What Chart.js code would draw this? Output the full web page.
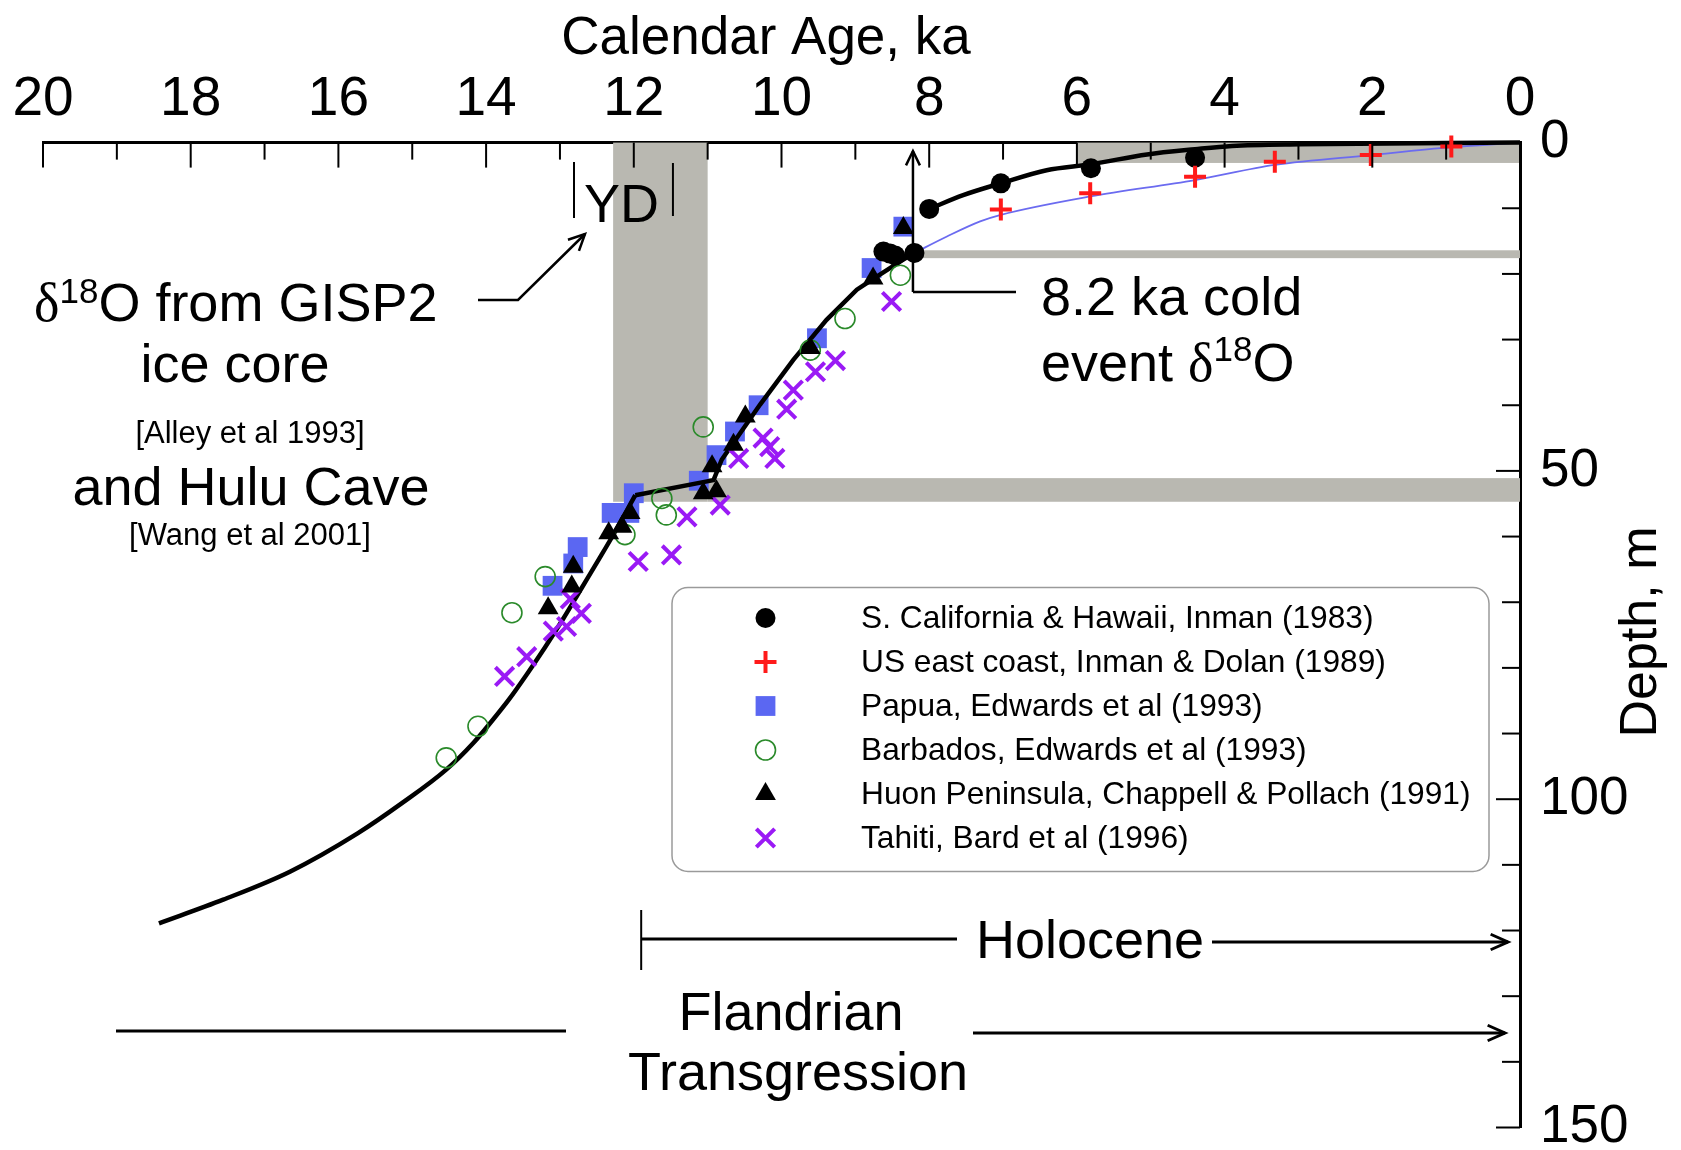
<!DOCTYPE html>
<html>
<head>
<meta charset="utf-8">
<script src="https://cdn.jsdelivr.net/npm/chart.js@4/dist/chart.umd.min.js"></script>
<style>
html,body{margin:0;padding:0;background:#fff;}
#wrap{width:1681px;height:1150px;position:relative;background:#fff;}
canvas{display:block;}
</style>
</head>
<body>
<div id="wrap"><canvas id="c" width="1681" height="1150"></canvas></div>
<script>
// ---------- tick labels ----------
const ageTickLabels = [20, 18, 16, 14, 12, 10, 8, 6, 4, 2, 0];
const depthTickLabels = [0, 50, 100, 150];
const ageMinorTicks = [0,1,2,3,4,5,6,7,8,9,10,11,12,13,14,15,16,17,18,19,20];
const depthMinorTicks = [10,20,30,40,50,60,70,80,90,100,110,120,130,140,150];

// ---------- series: Calendar age (ka) / depth (m) ----------
const seriesNames = [
  'S. California & Hawaii, Inman (1983)',
  'US east coast, Inman & Dolan (1989)',
  'Papua, Edwards et al (1993)',
  'Barbados, Edwards et al (1993)',
  'Huon Peninsula, Chappell & Pollach (1991)',
  'Tahiti, Bard et al (1996)'
];

const califAge   = [8.00, 7.03, 5.81, 4.40, 8.62, 8.53, 8.46, 8.20];
const califDepth = [10.1, 6.2, 3.9, 2.3, 16.6, 16.9, 17.2, 16.8];

const eastAge   = [7.03, 5.82, 4.40, 3.32, 2.02, 0.93];
const eastDepth = [10.2, 7.7, 5.2, 2.9, 1.9, 0.6];

const papuaAge   = [8.35, 8.78, 9.52, 10.31, 10.63, 10.88, 11.12, 12.00, 12.06, 12.30, 12.76, 12.82, 13.10];
const papuaDepth = [12.8, 19.1, 29.8, 40.0, 44.0, 47.6, 51.5, 53.4, 56.4, 56.4, 61.6, 64.1, 67.5];

const barbadosAge   = [8.39, 9.14, 9.61, 11.06, 11.62, 11.56, 12.12, 13.20, 13.65, 14.11, 14.54];
const barbadosDepth = [20.2, 26.8, 31.6, 43.3, 54.2, 56.7, 59.7, 66.1, 71.6, 88.9, 93.7];

const huonAge   = [8.35, 8.76, 9.61, 10.49, 10.65, 10.94, 10.88, 11.06, 12.05, 12.16, 12.34, 12.82, 12.84, 13.16];
const huonDepth = [13.0, 20.7, 31.3, 41.7, 46.0, 49.3, 53.1, 53.4, 56.4, 58.5, 59.5, 64.6, 67.6, 70.9];

const tahitiAge   = [8.51, 9.27, 9.54, 9.84, 9.93, 10.25, 10.16, 10.09, 10.58, 10.83, 11.28, 11.49, 11.94, 12.86, 12.71, 12.91, 13.09, 13.45, 13.75];
const tahitiDepth = [24.2, 33.2, 34.9, 37.7, 40.6, 45.0, 46.3, 48.1, 48.1, 55.2, 57.0, 62.8, 63.8, 69.5, 71.7, 73.7, 74.4, 78.3, 81.3];

// GISP2 / Hulu Cave sea-level curve, in three pieces
const curveLowAge    = [18.43,17.56,16.65,15.74,15.14,14.54,14.17,13.93,13.69,13.45,13.21,12.96,12.72,12.48,12.24,11.98];
const curveLowDepth  = [118.9,115.3,111.0,105.2,100.6,95.5,91.4,88.2,84.8,81.0,77.0,72.6,68.1,63.6,59.0,53.7];
const curveMidAge    = [11.98,10.92,10.81,10.29,9.84,9.39,8.98,8.71,8.39,8.20];
const curveMidDepth  = [53.7,51.4,48.3,39.9,33.1,27.0,22.4,20.4,18.1,16.8];
const curveHighAge   = [8.00,7.54,7.03,6.41,5.81,5.05,4.40,3.90,2.98,0.00];
const curveHighDepth = [10.1,8.0,6.2,4.2,3.3,1.8,1.0,0.5,0.25,0.0];

// thin blue curve through the US east coast data
const eastCurveAge   = [8.20, 7.76, 7.31, 7.03, 5.82, 4.40, 3.32, 2.02, 0.93, 0.00];
const eastCurveDepth = [16.8, 14.3, 12.0, 11.0, 8.2, 5.7, 3.4, 1.9, 0.7, 0.0];

// grey bands (age from/to, depth from/to)
const bandAgeFrom   = [12.28, 11.00, 8.20, 6.00];
const bandAgeTo     = [11.00, 0.00, 0.00, 0.00];
const bandDepthFrom = [0.0, 51.1, 16.4, 0.0];
const bandDepthTo   = [54.7, 54.7, 17.6, 3.1];

// YD bounds (ka)
const ydBounds = [12.81, 11.47];
const event82Age = 8.22;
const holoceneStartAge = 11.9;

// ---------- helpers ----------
const FONT = "'Liberation Sans', Arial, Helvetica, sans-serif";
const SERIF = "'Liberation Serif', 'Times New Roman', serif";
const pts = (a, d) => a.map((v, i) => ({x: v, y: d[i]}));

function runs(ctx, list, x, y, align) {
  let total = 0;
  list.forEach(r => { ctx.font = r.f; r.w = ctx.measureText(r.t).width; total += r.w; });
  let cx = align === 'center' ? x - total / 2 : x;
  ctx.textAlign = 'left';
  ctx.textBaseline = 'alphabetic';
  list.forEach(r => { ctx.font = r.f; ctx.fillText(r.t, cx, y + (r.dy || 0)); cx += r.w; });
}
function line(ctx, x1, y1, x2, y2) { ctx.beginPath(); ctx.moveTo(x1, y1); ctx.lineTo(x2, y2); ctx.stroke(); }
function chevron(ctx, x, y, ang, len, spread) {
  ctx.beginPath();
  ctx.moveTo(x - len * Math.cos(ang - spread), y - len * Math.sin(ang - spread));
  ctx.lineTo(x, y);
  ctx.lineTo(x - len * Math.cos(ang + spread), y - len * Math.sin(ang + spread));
  ctx.stroke();
}

const bandsPlugin = {
  id: 'bands',
  beforeDatasetsDraw(chart) {
    const {ctx, scales: {x, y}} = chart;
    ctx.save();
    ctx.fillStyle = '#b9b8b1';
    for (let i = 0; i < bandAgeFrom.length; i++) {
      const x0 = x.getPixelForValue(bandAgeFrom[i]), x1 = x.getPixelForValue(bandAgeTo[i]);
      const y0 = y.getPixelForValue(bandDepthFrom[i]), y1 = y.getPixelForValue(bandDepthTo[i]);
      ctx.fillRect(Math.min(x0, x1), Math.min(y0, y1), Math.abs(x1 - x0), Math.abs(y1 - y0));
    }
    ctx.restore();
  }
};

const overlayPlugin = {
  id: 'overlay',
  afterDraw(chart) {
    const {ctx, chartArea: ca, scales: {x, y}} = chart;
    ctx.save();
    ctx.strokeStyle = '#000';
    ctx.fillStyle = '#000';
    // inward tick marks
    ctx.lineWidth = 2;
    ageMinorTicks.forEach(v => {
      const px = x.getPixelForValue(v);
      line(ctx, px, ca.top, px, ca.top + (v % 2 === 0 ? 25 : 17));
    });
    depthMinorTicks.forEach(v => {
      const py = y.getPixelForValue(v);
      line(ctx, ca.right - (v % 50 === 0 ? 24 : 18), py, ca.right, py);
    });

    // axis titles
    ctx.textAlign = 'center';
    ctx.textBaseline = 'alphabetic';
    ctx.font = '53px ' + FONT;
    ctx.fillText('Calendar Age, ka', 766, 54);
    ctx.save();
    ctx.translate(1656, 632);
    ctx.rotate(-Math.PI / 2);
    ctx.font = '52px ' + FONT;
    ctx.fillText('Depth, m', 0, 0);
    ctx.restore();

    // YD marker
    ctx.lineWidth = 2;
    const yd0 = x.getPixelForValue(ydBounds[0]), yd1 = x.getPixelForValue(ydBounds[1]);
    line(ctx, yd0, 162, yd0, 218);
    line(ctx, yd1, 163, yd1, 216);
    ctx.font = '54px ' + FONT;
    ctx.textAlign = 'left';
    ctx.fillText('YD', 584, 222);

    // left annotation block
    const big = '54px ' + FONT, sup = '35px ' + FONT, dl = '54px ' + SERIF, small = '31px ' + FONT;
    runs(ctx, [{t: 'δ', f: dl}, {t: '18', f: sup, dy: -18}, {t: 'O from GISP2', f: big}], 34, 321, 'left');
    runs(ctx, [{t: 'ice core', f: big}], 235, 382, 'center');
    runs(ctx, [{t: '[Alley et al 1993]', f: small}], 250, 443, 'center');
    runs(ctx, [{t: 'and Hulu Cave', f: big}], 251, 505, 'center');
    runs(ctx, [{t: '[Wang et al 2001]', f: small}], 250, 545, 'center');

    // arrow to YD
    ctx.lineWidth = 2.5;
    ctx.beginPath(); ctx.moveTo(478, 300); ctx.lineTo(518, 300); ctx.lineTo(585, 234); ctx.stroke();
    chevron(ctx, 585, 234, Math.atan2(234 - 300, 585 - 518), 18, 0.45);

    // 8.2 ka event arrow
    const ex = x.getPixelForValue(event82Age);
    line(ctx, ex, 292, ex, 151);
    chevron(ctx, ex, 151, -Math.PI / 2, 16, 0.45);
    line(ctx, ex, 292, 1016, 292);
    runs(ctx, [{t: '8.2 ka cold', f: big}], 1041, 315, 'left');
    runs(ctx, [{t: 'event ', f: big}, {t: 'δ', f: dl}, {t: '18', f: sup, dy: -20}, {t: 'O', f: big}], 1041, 381, 'left');

    // Holocene
    const hx = x.getPixelForValue(holoceneStartAge);
    ctx.lineWidth = 2;
    line(ctx, hx, 910, hx, 970);
    ctx.lineWidth = 3;
    line(ctx, hx, 939, 957, 939);
    runs(ctx, [{t: 'Holocene', f: big}], 976, 958, 'left');
    line(ctx, 1212, 942, 1508, 942);
    chevron(ctx, 1508, 942, 0, 19, 0.42);

    // Flandrian Transgression
    line(ctx, 116, 1031, 566, 1031);
    runs(ctx, [{t: 'Flandrian', f: big}], 791, 1030, 'center');
    runs(ctx, [{t: 'Transgression', f: big}], 798, 1090, 'center');
    line(ctx, 973, 1033, 1505, 1033);
    chevron(ctx, 1505, 1033, 0, 19, 0.42);

    // legend
    ctx.lineWidth = 1.5;
    ctx.strokeStyle = '#9a9a9a';
    ctx.beginPath();
    ctx.roundRect(672, 587.5, 817, 284, 16);
    ctx.stroke();
    const legendSets = chart.data.datasets.filter(d => d.inLegend);
    legendSets.sort((a, b) => a.legendIndex - b.legendIndex);
    legendSets.forEach((ds, i) => {
      const cy = 618 + i * 44;
      ctx.fillStyle = ds.backgroundColor;
      ctx.strokeStyle = ds.borderColor;
      ctx.lineWidth = ds.borderWidth;
      Chart.helpers.drawPoint(ctx, {pointStyle: ds.pointStyle, radius: ds.pointRadius, rotation: 0, borderWidth: ds.borderWidth}, 765.5, cy);
      ctx.fillStyle = '#000';
      ctx.font = '31.7px ' + FONT;
      ctx.textAlign = 'left';
      ctx.textBaseline = 'middle';
      ctx.fillText(seriesNames[ds.legendIndex], 861, cy + 1);
    });
    ctx.restore();
  }
};

const common = {clip: false, showLine: false, pointHoverRadius: 0};
const curveStyle = {inLegend: false, order: 5, clip: false, showLine: true, pointRadius: 0, pointHoverRadius: 0,
  borderColor: '#000000', borderWidth: 4.5, fill: false};

const chart = new Chart(document.getElementById('c'), {
  type: 'scatter',
  data: {
    datasets: [
      Object.assign({}, common, {label: seriesNames[1], inLegend: true, legendIndex: 1, order: 0,
        data: pts(eastAge, eastDepth), pointStyle: 'cross', pointRadius: 11,
        backgroundColor: '#ff1a1a', borderColor: '#ff1a1a', borderWidth: 4}),
      Object.assign({}, common, {label: seriesNames[0], inLegend: true, legendIndex: 0, order: 1,
        data: pts(califAge, califDepth), pointStyle: 'circle', pointRadius: 10,
        backgroundColor: '#000000', borderColor: '#000000', borderWidth: 0}),
      Object.assign({}, common, {label: seriesNames[4], inLegend: true, legendIndex: 4, order: 2,
        data: pts(huonAge, huonDepth), pointStyle: 'triangle', pointRadius: 12,
        backgroundColor: '#000000', borderColor: '#000000', borderWidth: 0}),
      Object.assign({}, common, {label: seriesNames[5], inLegend: true, legendIndex: 5, order: 3,
        data: pts(tahitiAge, tahitiDepth), pointStyle: 'crossRot', pointRadius: 13,
        backgroundColor: '#9a1af5', borderColor: '#9a1af5', borderWidth: 4}),
      Object.assign({}, common, {label: seriesNames[3], inLegend: true, legendIndex: 3, order: 4,
        data: pts(barbadosAge, barbadosDepth), pointStyle: 'circle', pointRadius: 10,
        backgroundColor: 'rgba(0,0,0,0)', borderColor: '#2a8a2a', borderWidth: 1.6}),
      Object.assign({}, curveStyle, {label: 'GISP2 / Hulu Cave curve (early)',
        data: pts(curveLowAge, curveLowDepth), cubicInterpolationMode: 'monotone'}),
      Object.assign({}, curveStyle, {label: 'GISP2 / Hulu Cave curve (YD to 8.2 ka)',
        data: pts(curveMidAge, curveMidDepth), tension: 0}),
      Object.assign({}, curveStyle, {label: 'GISP2 / Hulu Cave curve (late)',
        data: pts(curveHighAge, curveHighDepth), cubicInterpolationMode: 'monotone'}),
      Object.assign({}, common, {label: seriesNames[2], inLegend: true, legendIndex: 2, order: 6,
        data: pts(papuaAge, papuaDepth), pointStyle: 'rect', pointRadius: 14,
        backgroundColor: '#5b67f2', borderColor: '#5b67f2', borderWidth: 0}),
      {label: 'US east coast curve', inLegend: false, order: 7, clip: false,
        data: pts(eastCurveAge, eastCurveDepth), showLine: true, pointRadius: 0, pointHoverRadius: 0,
        borderColor: '#6b6bf0', borderWidth: 1.8, cubicInterpolationMode: 'monotone', fill: false}
    ]
  },
  options: {
    responsive: false,
    animation: false,
    devicePixelRatio: 1,
    events: [],
    layout: {padding: {left: 43, right: 0, top: 0, bottom: 22.5}, autoPadding: false},
    plugins: {legend: {display: false}, tooltip: {enabled: false}, title: {display: false}},
    scales: {
      x: {
        type: 'linear', position: 'top', reverse: true, min: 0, max: 20,
        grid: {display: false, drawTicks: false},
        border: {display: true, color: '#000', width: 3},
        ticks: {font: {size: 55, family: FONT, lineHeight: 1}, color: '#000', padding: 15,
                maxRotation: 0, autoSkip: false},
        afterBuildTicks: s => { s.ticks = ageTickLabels.map(v => ({value: v})); },
        afterFit: s => { s.height = 142.6; s.paddingLeft = 0; s.paddingRight = 0; s.paddingTop = 0; s.paddingBottom = 0; }
      },
      y: {
        type: 'linear', position: 'right', reverse: true, min: 0, max: 150,
        grid: {display: false, drawTicks: false},
        border: {display: true, color: '#000', width: 3},
        ticks: {font: {size: 53, family: FONT, lineHeight: 1}, color: '#000', padding: 20, autoSkip: false},
        afterBuildTicks: s => { s.ticks = depthTickLabels.map(v => ({value: v})); },
        afterFit: s => { s.width = 161; s.paddingLeft = 0; s.paddingRight = 0; s.paddingTop = 0; s.paddingBottom = 0; }
      }
    }
  },
  plugins: [bandsPlugin, overlayPlugin]
});
</script>
</body>
</html>
